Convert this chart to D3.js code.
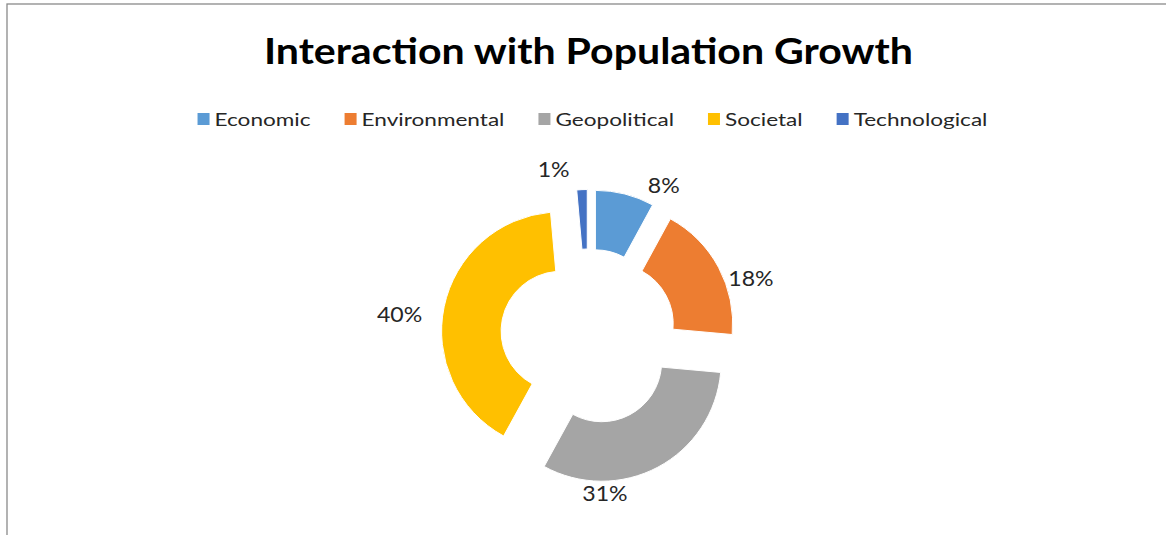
<!DOCTYPE html>
<html>
<head>
<meta charset="utf-8">
<script src="https://cdn.jsdelivr.net/npm/d3@7"></script>
<style>
  html, body { margin: 0; padding: 0; background: #fff; }
  svg { display: block; }
  text { font-family: Lato, "Open Sans", sans-serif; fill: #262626; }
</style>
</head>
<body>
<svg id="chart" width="1166" height="535"></svg>
<script>
// ---- data ----
const categories = ["Economic", "Environmental", "Geopolitical", "Societal", "Technological"];
const values = [7.9, 18.4, 31.4, 40.4, 1.4];
const percentLabels = ["8%", "18%", "31%", "40%", "1%"];
const colors = ["#5B9BD5", "#ED7D31", "#A5A5A5", "#FFC000", "#4472C4"];
const title = "Interaction with Population Growth";

// ---- layout ----
const W = 1166, H = 535;
const cx = 588.5, cy = 337;
const outerR = 119.5, innerR = 60, explode = 28;
const textStretch = 1.11;     // the reference text is horizontally wider than Lato
const legendStretch = 1.29;
const legendCenterX = 592.5;
// manually placed data labels (polar: degrees clockwise from top, radius)
const labelPolar = [[26.4, 169.4], [70.0, 172.9], [174.0, 156.9], [276.8, 190.3], [348.3, 171.8]];

const svg = d3.select("#chart");

// chart frame
svg.append("rect")
  .attr("x", 7).attr("y", 4)
  .attr("width", W + 20).attr("height", H + 20)
  .attr("fill", "none").attr("stroke", "#8a8a8a").attr("stroke-width", 1.3);

function stretch(sel, f) {
  const w = sel.node().getComputedTextLength();
  sel.attr("textLength", w * f).attr("lengthAdjust", "spacingAndGlyphs");
  return w * f;
}

// title
const tt = svg.append("text")
  .attr("x", cx).attr("y", 64)
  .attr("text-anchor", "middle")
  .style("font-weight", "bold")
  .style("font-size", "37px")
  .style("fill", "#000")
  .text(title);
stretch(tt, textStretch);

// legend
const legend = svg.append("g").attr("class", "legend");
const sq = 12, sqGap = 5, itemGap = 34;
let xPos = 0;
categories.forEach((c, i) => {
  const g = legend.append("g").attr("transform", `translate(${xPos},0)`);
  g.append("rect").attr("x", 0).attr("y", -12.5).attr("width", sq).attr("height", sq).attr("fill", colors[i]);
  const t = g.append("text").attr("x", sq + sqGap).attr("y", 0)
    .style("font-size", "17.5px").text(c);
  const w = stretch(t, legendStretch);
  xPos += sq + sqGap + w + itemGap;
});
const legendW = xPos - itemGap;
legend.attr("transform", `translate(${legendCenterX - legendW / 2},125.5)`);

// donut
const pie = d3.pie().sort(null).value(d => d)(values);
const arc = d3.arc().innerRadius(innerR).outerRadius(outerR);
const g = svg.append("g").attr("transform", `translate(${cx},${cy})`);
g.selectAll("path").data(pie).join("path")
  .attr("d", arc)
  .attr("fill", (d, i) => colors[i])
  .attr("stroke", "#fff").attr("stroke-width", 1)
  .attr("transform", d => {
    const a = (d.startAngle + d.endAngle) / 2;
    return `translate(${explode * Math.sin(a)},${-explode * Math.cos(a)})`;
  });

// data labels
g.selectAll("text.lbl").data(pie).join("text")
  .attr("class", "lbl")
  .attr("text-anchor", "middle")
  .style("font-size", "22px")
  .attr("x", (d, i) => labelPolar[i][1] * Math.sin(labelPolar[i][0] * Math.PI / 180))
  .attr("y", (d, i) => -labelPolar[i][1] * Math.cos(labelPolar[i][0] * Math.PI / 180) + 7.8)
  .text((d, i) => percentLabels[i])
  .each(function() { stretch(d3.select(this), 1.05); });
</script>
</body>
</html>
